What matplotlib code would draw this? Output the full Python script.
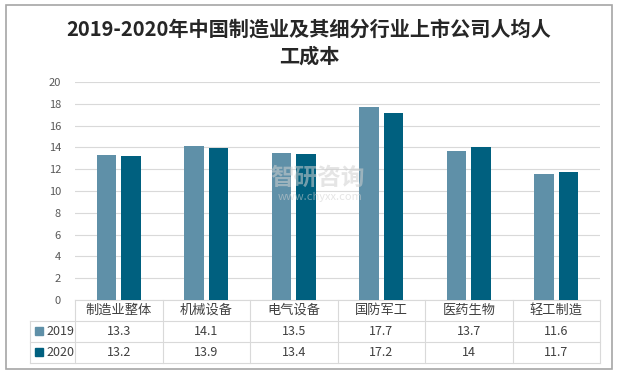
import matplotlib.pyplot as plt
from matplotlib.patches import Rectangle
import matplotlib.transforms as mtransforms
import numpy as np

plt.rcParams['font.family'] = ['Noto Sans CJK SC', 'DejaVu Sans']

categories = ['制造业整体', '机械设备', '电气设备', '国防军工', '医药生物', '轻工制造']
series_names = ['2019', '2020']
values_2019 = [13.3, 14.1, 13.5, 17.7, 13.7, 11.6]
values_2020 = [13.2, 13.9, 13.4, 17.2, 14, 11.7]
table_2019 = ['13.3', '14.1', '13.5', '17.7', '13.7', '11.6']
table_2020 = ['13.2', '13.9', '13.4', '17.2', '14', '11.7']
colors = ['#5F90A8', '#00607F']
title = '2019-2020年中国制造业及其细分行业上市公司人均人\n工成本'

W, H = 618, 374
fig = plt.figure(figsize=(W / 100, H / 100), dpi=100)

# outer frame
fig.patches.append(Rectangle((6 / W, 5 / H), 606 / W, 364 / H, transform=fig.transFigure,
                             fill=False, edgecolor='#A6A6A6', linewidth=1.2))

fig.text(0.5, 1 - 43 / H, title, ha='center', va='center', fontsize=14.5,
         fontweight='bold', color='#262626', linespacing=1.35)

ax = fig.add_axes([75 / W, 1 - 300 / H, 525 / W, 218 / H])
x = np.arange(len(categories))
bw = 0.225
gap = 0.055
ax.bar(x - (bw + gap) / 2, values_2019, bw, color=colors[0], zorder=3)
ax.bar(x + (bw + gap) / 2, values_2020, bw, color=colors[1], zorder=3)
ax.set_xlim(-0.5, len(categories) - 0.5)
ax.set_ylim(0, 20)
ax.set_yticks(range(0, 21, 2))
ax.yaxis.grid(True, color='#D9D9D9', linewidth=0.8, zorder=0)
ax.tick_params(axis='y', length=0, labelsize=8, labelcolor='#595959', pad=10)
ax.set_xticks([])
for s in ['top', 'right', 'left']:
    ax.spines[s].set_visible(False)
ax.spines['bottom'].set_color('#D9D9D9')

# data table under the axes
trans = mtransforms.blended_transform_factory(ax.transData, ax.transAxes)
row_h = 21 / 218
line_kw = dict(color='#D9D9D9', linewidth=0.8, clip_on=False, transform=trans)
x_left = -0.5 - 45 / 87.5
x_right = len(categories) - 0.5
for i in range(len(categories) + 1):
    ax.plot([i - 0.5, i - 0.5], [0, -3 * row_h], **line_kw)
ax.plot([x_left, x_left], [-row_h, -3 * row_h], **line_kw)
for r in [1, 2, 3]:
    ax.plot([x_left, x_right], [-r * row_h, -r * row_h], **line_kw)

for i, c in enumerate(categories):
    ax.text(i, -0.5 * row_h, c, transform=trans, ha='center', va='center',
            fontsize=9.5, color='#404040')
    ax.text(i, -1.5 * row_h, table_2019[i], transform=trans, ha='center', va='center',
            fontsize=9, color='#404040')
    ax.text(i, -2.5 * row_h, table_2020[i], transform=trans, ha='center', va='center',
            fontsize=9, color='#404040')

for r, (name, col) in enumerate(zip(series_names, colors)):
    y = -(1.5 + r) * row_h
    ax.add_patch(Rectangle((x_left + 5 / 87.5, y - 3.5 / 218), 8 / 87.5, 8 / 218,
                           transform=trans, color=col, clip_on=False))
    ax.text(x_left + 16 / 87.5, y, name, transform=trans, ha='left', va='center',
            fontsize=9, color='#404040')

# watermark
fig.text(1 - 300 / W, 1 - 178 / H, '智研咨询', ha='center', va='center', fontsize=17,
         color='#D0D0D0', alpha=0.55, fontweight='bold', zorder=10)
fig.text(1 - 298 / W, 1 - 197 / H, 'www.chyxx.com', ha='center', va='center', fontsize=8,
         color='#D0D0D0', alpha=0.55, zorder=10)

fig.savefig('out.png', dpi=100)
